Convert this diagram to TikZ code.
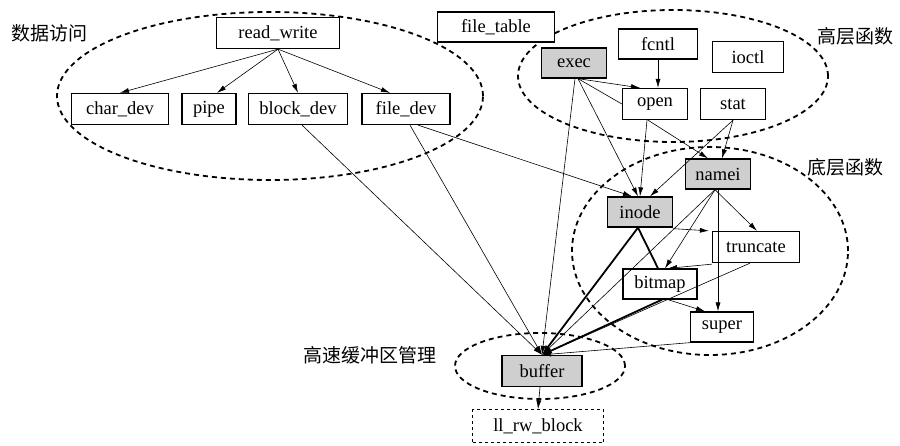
\documentclass[tikz,border=0pt]{standalone}
\usepackage{fontspec}
\setmainfont{Liberation Serif}
\newfontfamily\cjk{Noto Sans CJK SC}
\usetikzlibrary{arrows.meta,shapes.geometric}
\begin{document}
\begin{tikzpicture}[x=1pt,y=-1pt,
  box/.style={draw, line width=1.3pt, fill=white, inner sep=0pt,
    font=\fontsize{18.5}{20}\selectfont, minimum height=31pt},
  gbox/.style={box, fill=gray!38},
  dbox/.style={box, dashed, line width=0.6pt},
  grp/.style={draw, ellipse, inner sep=0pt, line width=1.8pt, dash pattern=on 5pt off 4pt},
  lab/.style={font=\cjk\fontsize{19}{21}\selectfont},
  conn/.style={line width=0.6pt, -{Latex[length=9pt,width=5pt]}},
  plain/.style={line width=0.6pt},
  heavy/.style={line width=1.8pt, -{Latex[length=10pt,width=6pt]}},
  heavyline/.style={line width=1.8pt}
]
\useasboundingbox (0,0) rectangle (900,446);

% group ellipses
\node[grp, minimum width=426pt, minimum height=168pt] (gdata) at (270,96) {};
\node[grp, minimum width=310pt, minimum height=132pt] (ghigh) at (673,76) {};
\node[grp, minimum width=276pt, minimum height=208pt] (glow) at (710,251) {};
\node[grp, minimum width=170pt, minimum height=66pt] (gbuf) at (540,366) {};

% group labels
\node[lab] (ldata) at (50,33) {数据访问};
\node[lab] (lhigh) at (855,36) {高层函数};
\node[lab] (llow) at (845,167) {底层函数};
\node[lab] (lbuf) at (370,355) {高速缓冲区管理};

% boxes
\node[box, minimum width=123pt] (rw) at (278,33) {read\_write};
\node[box, minimum width=97pt] (chardev) at (120,109) {char\_dev};
\node[box, minimum width=54pt] (pipe) at (209,109) {pipe};
\node[box, minimum width=99pt] (blockdev) at (298,109) {block\_dev};
\node[box, minimum width=88pt] (filedev) at (406,109) {file\_dev};
\node[box, minimum width=117pt, minimum height=30pt] (filetable) at (496,27) {file\_table};
\node[gbox, minimum width=65pt, minimum height=30pt] (exec) at (574,63) {exec};
\node[box, minimum width=79pt, minimum height=30pt] (fcntl) at (658,44) {fcntl};
\node[box, minimum width=71pt] (ioctl) at (748,57) {ioctl};
\node[box, minimum width=65pt] (open) at (655,104) {open};
\node[box, minimum width=65pt] (stat) at (733,104) {stat};
\node[gbox, minimum width=65pt, minimum height=30pt] (namei) at (718,174) {namei};
\node[gbox, minimum width=65pt, minimum height=30pt] (inode) at (640,212) {inode};
\node[box, minimum width=87pt] (truncate) at (756,247) {truncate};
\node[box, minimum width=74pt, minimum height=30pt] (bitmap) at (660,284) {bitmap};
\node[box, minimum width=63pt, minimum height=30pt] (super) at (722,327) {super};
\node[gbox, minimum width=80pt] (buffer) at (542,371) {buffer};
\node[dbox, minimum width=131pt, minimum height=33pt] (llrw) at (538,426) {ll\_rw\_block};

% data access
\draw[conn] (rw.south) -- (chardev.north);
\draw[conn] (rw.south) -- ([xshift=8pt]pipe.north);
\draw[conn] (rw.south) -- (blockdev.north);
\draw[conn] (rw.south) -- ([xshift=-16pt]filedev.north);
\draw[conn] ([xshift=4pt]blockdev.south) -- (buffer.north);
\draw[conn] ([xshift=4pt]filedev.south) -- (buffer.north);
\draw[conn] ([xshift=12pt]filedev.south) -- ([xshift=-8pt]inode.north);

% high level
\draw[conn] (fcntl.south) -- (fcntl.south |- open.north);
\draw[conn] ([xshift=4pt]exec.south) -- ([xshift=-15pt]open.north);
\draw[plain] ([xshift=4pt]exec.south) -- (open.west);
\draw[conn] ([xshift=4pt]exec.south) -- ([xshift=-2pt]inode.north);
\draw[conn] ([xshift=1pt]exec.south) -- (buffer.north);
\draw[conn] ([xshift=-8pt]open.south) -- (inode.north);
\draw[conn] ([xshift=-7pt]open.south) -- ([xshift=-10pt]namei.north);
\draw[conn] (stat.south) -- ([xshift=10pt]inode.north);
\draw[conn] (stat.south) -- ([xshift=4pt]namei.north);

% low level
\draw[conn] ([xshift=-3pt]namei.south) -- ([xshift=1pt]truncate.north);
\draw[conn] (namei.south) -- (namei.south |- super.north);
\draw[conn] ([xshift=-3pt]namei.south) -- ([xshift=5pt]bitmap.north);
\draw[conn] ([xshift=-3pt]namei.south) -- (buffer.north);
\draw[conn] ([yshift=-1pt]inode.south east) -- ([xshift=-3pt]truncate.north west);
\draw[heavyline] ([xshift=-2pt]inode.south) -- ([xshift=-2pt]bitmap.north);
\draw[heavy] ([xshift=-2pt]inode.south) -- (buffer.north);
\draw[conn] ([yshift=-1pt]truncate.south west) -- ([xshift=8pt]bitmap.north);
\draw[conn] ([xshift=-6pt]truncate.south) -- (buffer.north);
\draw[conn] ([xshift=8pt]bitmap.south) -- ([xshift=-17pt]super.north);
\draw[heavy] ([xshift=2pt]bitmap.south) -- (buffer.north);
\draw[conn] (super.south west) -- (buffer.north);

% buffer
\draw[conn] ([xshift=-2pt]buffer.south) -- (llrw.north);
\end{tikzpicture}
\end{document}
